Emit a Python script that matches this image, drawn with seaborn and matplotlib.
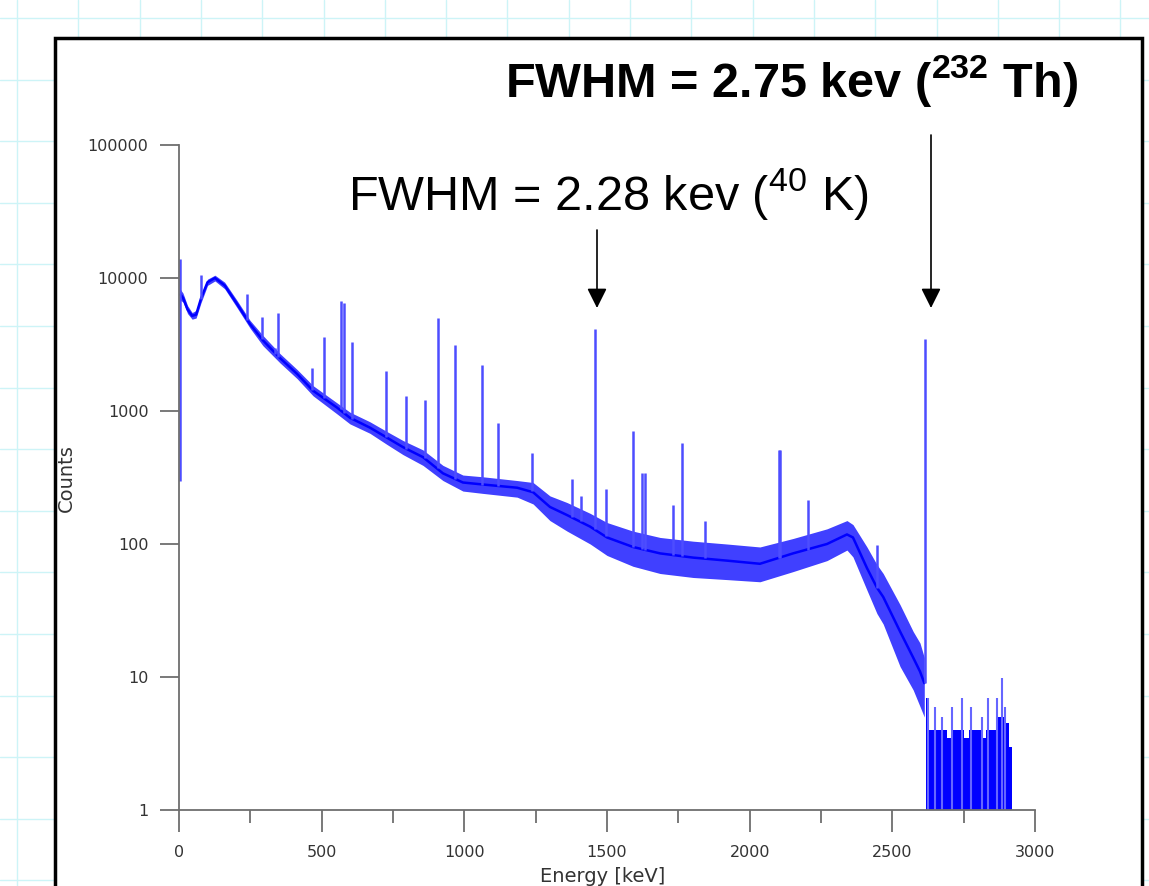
import numpy as np
import matplotlib
matplotlib.use("Agg")
import matplotlib.pyplot as plt
from matplotlib.patches import Rectangle
from matplotlib.ticker import MultipleLocator, NullLocator
import seaborn as sns

# continuum of the spectrum (energy keV, centre / lower / upper edge of the noise band)
cont_e = [5, 14, 30, 46, 60, 77, 100, 126, 160, 203, 249, 294, 354, 414, 470, 554, 599, 669, 729, 785,
          855, 925, 995, 1066, 1185, 1241, 1300, 1360, 1441, 1500, 1591, 1686, 1802, 1920, 2036, 2152,
          2271, 2341, 2362, 2411, 2446, 2468, 2527, 2573, 2597, 2612]
cont_mid = [7500, 7100, 5800, 5200, 5300, 7000, 9300, 10000, 8800, 6400, 4500, 3400, 2500, 1900, 1420,
            1060, 890, 750, 630, 535, 450, 340, 290, 280, 265, 245, 190, 165, 135, 112, 95, 85, 79, 75,
            71, 85, 100, 118, 112, 66, 47, 40, 22, 14, 11, 9]
cont_lo = [6800, 6600, 5400, 4900, 5000, 6500, 8800, 9500, 8300, 6000, 4200, 3100, 2300, 1750, 1300,
           950, 800, 680, 560, 470, 390, 300, 250, 240, 225, 200, 150, 125, 100, 82, 68, 60, 56, 54,
           52, 62, 75, 90, 80, 45, 30, 25, 12, 8, 6, 5]
cont_hi = [8200, 7700, 6200, 5500, 5700, 7500, 9800, 10500, 9300, 6800, 4800, 3700, 2700, 2050, 1550,
           1150, 980, 830, 700, 600, 510, 390, 330, 320, 300, 290, 230, 205, 170, 145, 125, 112, 105,
           100, 95, 110, 130, 150, 140, 95, 70, 60, 35, 22, 18, 14]

# gamma lines (energy, foot, top)
peak_e = [5, 77, 238, 291, 338, 347, 466, 508, 567, 579, 607, 726, 795, 862, 908, 967, 1062, 1118,
          1237, 1377, 1409, 1458, 1497, 1591, 1623, 1633, 1731, 1764, 1843, 2103, 2108, 2205, 2447, 2615]
peak_base = [300, 6900, 4800, 3450, 2700, 2550, 1450, 1250, 1030, 960, 870, 640, 520, 440, 370, 310,
             280, 275, 250, 160, 150, 130, 115, 95, 92, 90, 83, 81, 78, 78, 78, 90, 47, 9]
peak_top = [14000, 10500, 7600, 5100, 3000, 5500, 2100, 3600, 6700, 6500, 3300, 2000, 1290, 1200, 5000,
            3150, 2200, 810, 480, 310, 230, 4150, 260, 710, 340, 340, 195, 575, 150, 505, 505, 215, 98, 3500]

# low-count tail above the 2615 keV line
tail_e = [2618, 2640, 2660, 2680, 2700, 2720, 2740, 2760, 2780, 2800, 2820, 2840, 2860, 2880, 2900, 2915, 2925]
tail_hi = [7, 4, 4, 4, 3.5, 4, 4, 3.5, 4, 4, 3.5, 4, 4, 5, 4.5, 3, 1]
tail_spike_e = [2625, 2649, 2674, 2709, 2744, 2776, 2814, 2835, 2867, 2884, 2895]
tail_spike_top = [6.9, 5.9, 5.0, 5.9, 6.9, 5.9, 5.0, 6.9, 6.9, 9.8, 5.9]

y_ticks = [1, 10, 100, 1000, 10000, 100000]
y_labels = ["1", "10", "100", "1000", "10000", "100000"]
x_ticks = [0, 500, 1000, 1500, 2000, 2500, 3000]

sns.set_style("ticks")
plt.rcParams["font.family"] = ["Liberation Sans", "DejaVu Sans"]
plt.rcParams["mathtext.fontset"] = "custom"
plt.rcParams["mathtext.rm"] = "Liberation Sans"
plt.rcParams["mathtext.default"] = "regular"

W, H = 1149, 886
fig = plt.figure(figsize=(W / 100, H / 100), dpi=100)

# slide background with faint grid and white panel
bg = fig.add_axes([0, 0, 1, 1])
bg.set_xlim(0, W)
bg.set_ylim(H, 0)
bg.set_facecolor("#e0fdfe")
for gx in np.arange(17, W, 61.3):
    bg.axvline(gx, color="#cdf4f7", lw=1, zorder=1)
for gy in np.arange(18, H, 61.6):
    bg.axhline(gy, color="#cdf4f7", lw=1, zorder=1)
bg.add_patch(Rectangle((55, 38), 1087, 900, facecolor="white", edgecolor="black", lw=2.5, zorder=3))
bg.axis("off")

ax = fig.add_axes([179 / W, (H - 810) / H, (1035 - 179) / W, (810 - 145) / H])
ax.set_facecolor("none")

ax.fill_between(cont_e, cont_lo, cont_hi, color="blue", alpha=0.75, lw=0)
sns.lineplot(x=cont_e, y=cont_mid, ax=ax, color="blue", lw=1.8)
ax.vlines(peak_e, peak_base, peak_top, color="#4d4dff", lw=1.8)
ax.fill_between(tail_e, 1, tail_hi, color="blue", step="mid", lw=0)
ax.vlines(tail_spike_e, 1, tail_spike_top, color="#6666ff", lw=1.5)

ax.set_yscale("log")
ax.set_xlim(0, 3000)
ax.set_ylim(1, 100000)
ax.set_yticks(y_ticks)
ax.set_yticklabels(y_labels)
ax.yaxis.set_minor_locator(NullLocator())
ax.set_xticks(x_ticks)
ax.xaxis.set_minor_locator(MultipleLocator(250))

for s in ["top", "right"]:
    ax.spines[s].set_visible(False)
for s in ["left", "bottom"]:
    ax.spines[s].set_color("#6e6e6e")
    ax.spines[s].set_linewidth(1.3)

ax.tick_params(axis="y", which="major", length=14, width=1.3, color="#6e6e6e", pad=8,
               labelsize=11.5, labelcolor="#333333")
ax.tick_params(axis="x", which="major", length=16, width=1.3, color="#6e6e6e", pad=9,
               labelsize=11.5, labelcolor="#333333")
ax.tick_params(axis="x", which="minor", length=9, width=1.3, color="#6e6e6e")
for lab in ax.get_xticklabels() + ax.get_yticklabels():
    lab.set_family("DejaVu Sans")

ax.set_ylabel("Counts", fontsize=14, color="#333333", family="DejaVu Sans")
ax.yaxis.set_label_coords(-0.121, 0.499)
ax.set_xlabel("Energy [keV]", fontsize=14, color="#333333", family="DejaVu Sans")
ax.xaxis.set_label_coords(0.495, -0.085)

fig.text(505 / W, (H - 97) / H, r"FWHM = 2.75 kev ($^{232}$ Th)", fontsize=35, fontweight="bold",
         color="black", ha="left", va="baseline")
fig.text(348 / W, (H - 210) / H, r"FWHM = 2.28 kev ($^{40}$ K)", fontsize=35,
         color="black", ha="left", va="baseline")

arrow = dict(arrowstyle="-|>,head_length=0.6,head_width=0.3", color="black", lw=1.2,
             mutation_scale=20, shrinkA=0, shrinkB=0)
ax.annotate("", xy=(597, H - 308), xytext=(597, H - 230), xycoords="figure pixels",
            textcoords="figure pixels", arrowprops=arrow)
ax.annotate("", xy=(931, H - 308), xytext=(931, H - 135), xycoords="figure pixels",
            textcoords="figure pixels", arrowprops=arrow)

fig.savefig("out.png", dpi=100)
